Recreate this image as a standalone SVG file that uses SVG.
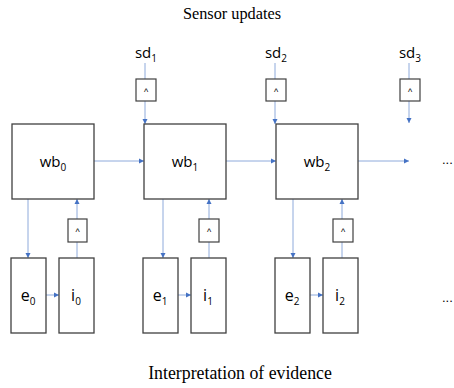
<svg xmlns="http://www.w3.org/2000/svg" width="454" height="388" viewBox="0 0 454 388">
<defs>
<marker id="ah" markerWidth="6" markerHeight="6" refX="5" refY="3" orient="auto" markerUnits="userSpaceOnUse">
<path d="M0,0.5 L5,3 L0,5.5 Z" fill="#4472c4"/>
</marker>
<style>
.box{fill:#fff;stroke:#404040;stroke-width:1.3}
.sb{fill:#fff;stroke:#404040;stroke-width:1.2}
.lbl{font-family:"Open Sans","Liberation Sans",sans-serif;font-size:15px;fill:#000;text-anchor:middle}
.lb2{font-family:"Open Sans","Liberation Sans",sans-serif;font-size:16px;fill:#000;text-anchor:middle}
.sub{font-size:10px}
.car{font-family:"Liberation Sans",sans-serif;font-size:9px;fill:#000;text-anchor:middle}
.ttl{font-family:"Liberation Serif",serif;fill:#000;text-anchor:middle}
.c{stroke:#8eaadb;stroke-width:1;fill:none;marker-end:url(#ah)}
.cn{stroke:#8eaadb;stroke-width:1;fill:none}
.dots{font-family:"Liberation Sans",sans-serif;font-size:13px;fill:#000}
</style>
</defs>
<rect width="454" height="388" fill="#fff"/>
<text class="ttl" x="232" y="19" font-size="16.3">Sensor updates</text>
<text class="ttl" x="240" y="379" font-size="17.8">Interpretation of evidence</text>

<g id="connectors">
<line class="cn" x1="145" y1="63" x2="145" y2="79"/>
<line class="c" x1="145" y1="101" x2="145" y2="124"/>
<line class="cn" x1="275" y1="63" x2="275" y2="79"/>
<line class="c" x1="275" y1="101" x2="275" y2="124"/>
<line class="cn" x1="409" y1="63" x2="409" y2="79"/>
<line class="c" x1="409" y1="101" x2="409" y2="123"/>
<line class="c" x1="94" y1="161" x2="144" y2="161"/>
<line class="c" x1="226" y1="161" x2="276" y2="161"/>
<line class="c" x1="358" y1="161" x2="409" y2="161"/>
<line class="c" x1="28" y1="199" x2="28" y2="258"/>
<line class="c" x1="163" y1="199" x2="163" y2="258"/>
<line class="c" x1="293" y1="199" x2="293" y2="258"/>
<line class="cn" x1="77" y1="258" x2="77" y2="242"/>
<line class="c" x1="77" y1="219" x2="77" y2="199"/>
<line class="cn" x1="209" y1="258" x2="209" y2="242"/>
<line class="c" x1="209" y1="219" x2="209" y2="199"/>
<line class="cn" x1="342" y1="258" x2="342" y2="242"/>
<line class="c" x1="342" y1="219" x2="342" y2="199"/>
<line class="c" x1="46" y1="295" x2="59" y2="295"/>
<line class="c" x1="178" y1="295" x2="191" y2="295"/>
<line class="c" x1="310" y1="295" x2="323" y2="295"/>
</g>

<g id="sd1"><text class="lbl" x="146" y="58">sd<tspan class="sub" dy="4">1</tspan></text></g>
<g id="sd2"><text class="lbl" x="276" y="58">sd<tspan class="sub" dy="4">2</tspan></text></g>
<g id="sd3"><text class="lbl" x="410" y="58">sd<tspan class="sub" dy="4">3</tspan></text></g>

<g id="g1"><rect class="sb" x="136" y="79" width="20" height="22"/><text class="car" x="146" y="95">^</text></g>
<g id="g2"><rect class="sb" x="266" y="79" width="20" height="22"/><text class="car" x="276" y="95">^</text></g>
<g id="g3"><rect class="sb" x="400" y="79" width="20" height="22"/><text class="car" x="410" y="95">^</text></g>

<g id="wb0"><rect class="box" x="12" y="124" width="82" height="75"/><text class="lbl" x="53" y="167">wb<tspan class="sub" dy="4">0</tspan></text></g>
<g id="wb1"><rect class="box" x="144" y="124" width="82" height="75"/><text class="lbl" x="185" y="167">wb<tspan class="sub" dy="4">1</tspan></text></g>
<g id="wb2"><rect class="box" x="276" y="124" width="82" height="75"/><text class="lbl" x="317" y="167">wb<tspan class="sub" dy="4">2</tspan></text></g>

<g id="h0"><rect class="sb" x="68" y="219" width="19" height="23"/><text class="car" x="77.5" y="235">^</text></g>
<g id="h1"><rect class="sb" x="199" y="219" width="20" height="23"/><text class="car" x="209" y="235">^</text></g>
<g id="h2"><rect class="sb" x="333" y="219" width="20" height="23"/><text class="car" x="343" y="235">^</text></g>

<g id="e0"><rect class="box" x="11" y="258" width="35" height="75"/><text class="lb2" x="28" y="301">e<tspan class="sub" dy="4">0</tspan></text></g>
<g id="i0"><rect class="box" x="59" y="258" width="35" height="75"/><text class="lb2" x="76" y="301">i<tspan class="sub" dy="4">0</tspan></text></g>
<g id="e1"><rect class="box" x="143" y="258" width="35" height="75"/><text class="lb2" x="160" y="301">e<tspan class="sub" dy="4">1</tspan></text></g>
<g id="i1"><rect class="box" x="191" y="258" width="35" height="75"/><text class="lb2" x="208" y="301">i<tspan class="sub" dy="4">1</tspan></text></g>
<g id="e2"><rect class="box" x="275" y="258" width="35" height="75"/><text class="lb2" x="292" y="301">e<tspan class="sub" dy="4">2</tspan></text></g>
<g id="i2"><rect class="box" x="323" y="258" width="35" height="75"/><text class="lb2" x="340" y="301">i<tspan class="sub" dy="4">2</tspan></text></g>

<text class="dots" x="442" y="164">...</text>
<text class="dots" x="442" y="302">...</text>
</svg>
